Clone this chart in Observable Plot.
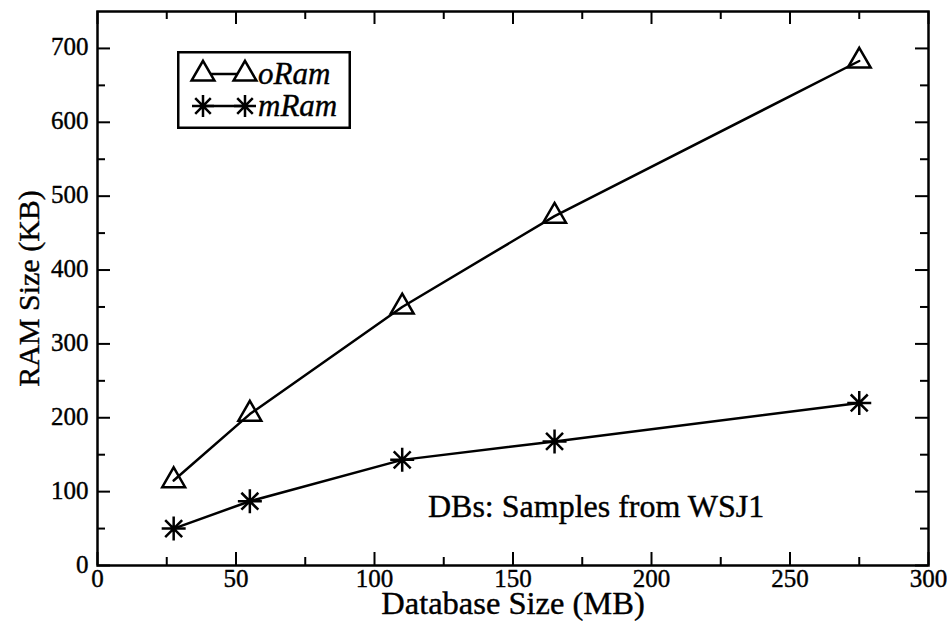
<!DOCTYPE html>
<html>
<head>
<meta charset="utf-8">
<script src="https://cdn.jsdelivr.net/npm/d3@7"></script>
<script src="https://cdn.jsdelivr.net/npm/@observablehq/plot@0.6"></script>
<style>
  html, body { margin: 0; padding: 0; background: #fff; }
  #wrap { position: relative; width: 947px; height: 626px; }
</style>
</head>
<body>
<div id="wrap"></div>
<script>
// ---- data ----
const dbSize = [27.5, 55, 110, 165, 275];          // Database Size (MB)
const oRam   = [115, 205, 350, 473, 683];          // RAM Size (KB)
const mRam   = [50, 87, 143, 168, 220];            // RAM Size (KB)
const seriesNames = ["oRam", "mRam"];
const xMajorTicks = [0, 50, 100, 150, 200, 250, 300];
const xMinorTicks = [25, 75, 125, 175, 225, 275];
const yMajorTicks = [0, 100, 200, 300, 400, 500, 600, 700];
const yMinorTicks = [50, 150, 250, 350, 450, 550, 650];
const xLabel = "Database Size (MB)";
const yLabel = "RAM Size (KB)";
const annotation = [{x: 180, y: 80, text: "DBs: Samples from WSJ1"}];

const rows = [];
dbSize.forEach((x, i) => rows.push({series: "oRam", x, y: oRam[i]}));
dbSize.forEach((x, i) => rows.push({series: "mRam", x, y: mRam[i]}));

// 8-armed asterisk symbol
const asterisk8 = {
  draw(context, size) {
    const r = Math.sqrt(size / Math.PI);
    const d = r * Math.SQRT1_2;
    context.moveTo(-r, 0); context.lineTo(r, 0);
    context.moveTo(0, -r); context.lineTo(0, r);
    context.moveTo(-d, -d); context.lineTo(d, d);
    context.moveTo(-d, d); context.lineTo(d, -d);
  }
};

const FONT = "Liberation Serif";
const W = 947, H = 626;
const mL = 97, mR = 19, mT = 11, mB = 61;
const innerH = H - mT - mB, innerW = W - mL - mR;
const majorLen = 13, minorLen = 8;
const txt = {fontFamily: FONT, fill: "#000", stroke: "#000", strokeWidth: 0.4};

const chart = Plot.plot({
  width: W, height: H,
  marginLeft: mL, marginRight: mR, marginTop: mT, marginBottom: mB,
  style: {fontFamily: FONT, fontSize: "25px", color: "#000", background: "#fff"},
  x: {domain: [0, 300], axis: null},
  y: {domain: [0, 750], axis: null},
  marks: [
    Plot.tickX(xMajorTicks, {x: d => d, insetTop: innerH - majorLen, stroke: "#000", strokeWidth: 2}),
    Plot.tickX(xMajorTicks, {x: d => d, insetBottom: innerH - majorLen, stroke: "#000", strokeWidth: 2}),
    Plot.tickX(xMinorTicks, {x: d => d, insetTop: innerH - minorLen, stroke: "#000", strokeWidth: 2}),
    Plot.tickX(xMinorTicks, {x: d => d, insetBottom: innerH - minorLen, stroke: "#000", strokeWidth: 2}),
    Plot.tickY(yMajorTicks, {y: d => d, insetRight: innerW - majorLen, stroke: "#000", strokeWidth: 2}),
    Plot.tickY(yMajorTicks, {y: d => d, insetLeft: innerW - majorLen, stroke: "#000", strokeWidth: 2}),
    Plot.tickY(yMinorTicks, {y: d => d, insetRight: innerW - minorLen, stroke: "#000", strokeWidth: 2}),
    Plot.tickY(yMinorTicks, {y: d => d, insetLeft: innerW - minorLen, stroke: "#000", strokeWidth: 2}),
    // tick labels
    Plot.text(xMajorTicks, {x: d => d, text: d => String(d), frameAnchor: "bottom", lineAnchor: "top", dy: 4, fontSize: 25, textAnchor: "middle", ...txt}),
    Plot.text(yMajorTicks, {y: d => d, text: d => String(d), frameAnchor: "left", dx: -9, dy: -1, fontSize: 25, textAnchor: "end", ...txt}),
    // axis titles
    Plot.text([xLabel], {text: d => d, frameAnchor: "bottom", dy: 48, fontSize: 32.5, textAnchor: "middle", ...txt}),
    Plot.text([yLabel], {text: d => d, frameAnchor: "left", dx: -68, rotate: -90, fontSize: 30, textAnchor: "middle", ...txt}),
    Plot.frame({stroke: "#000", strokeWidth: 2.5}),
    Plot.line(rows, {x: "x", y: "y", z: "series", stroke: "#000", strokeWidth: 2.5}),
    Plot.dot(rows.filter(d => d.series === "oRam"), {x: "x", y: "y", symbol: "triangle", r: 8.5, stroke: "#000", strokeWidth: 2.5, fill: "#fff", fillOpacity: 0}),
    Plot.dot(rows.filter(d => d.series === "mRam"), {x: "x", y: "y", symbol: asterisk8, r: 12, stroke: "#000", strokeWidth: 2.5}),
    Plot.text(annotation, {x: "x", y: "y", text: "text", fontSize: 32, textAnchor: "middle", ...txt})
  ]
});
document.getElementById("wrap").appendChild(chart);

// legend (real text), built from the series names
const ns = "http://www.w3.org/2000/svg";
const leg = document.createElementNS(ns, "svg");
leg.setAttribute("width", 174);
leg.setAttribute("height", 78);
leg.style.position = "absolute"; leg.style.left = "177px"; leg.style.top = "51px";
leg.innerHTML = `<rect x="1.25" y="1.25" width="171.5" height="75.5" fill="#fff" stroke="#000" stroke-width="2.5"/>`;
const tri = d3.symbol(d3.symbolTriangle, Math.PI * 72)();
const ast = d3.symbol(asterisk8, Math.PI * 121)();
seriesNames.forEach((name, i) => {
  const cy = 23 + i * 32;
  const g = document.createElementNS(ns, "g");
  g.innerHTML =
    `<line x1="26" x2="68" y1="${cy}" y2="${cy}" stroke="#000" stroke-width="2.5"/>` +
    [26, 68].map(cx => `<path transform="translate(${cx},${cy})" d="${i === 0 ? tri : ast}" fill="${i === 0 ? '#fff' : 'none'}" stroke="#000" stroke-width="2.5"/>`).join("") +
    `<text x="81" y="${cy}" dy="0.33em" font-family="Liberation Serif" font-style="italic" font-size="31" fill="#000" stroke="#000" stroke-width="0.4">${name}</text>`;
  leg.appendChild(g);
});
document.getElementById("wrap").appendChild(leg);
</script>
</body>
</html>
